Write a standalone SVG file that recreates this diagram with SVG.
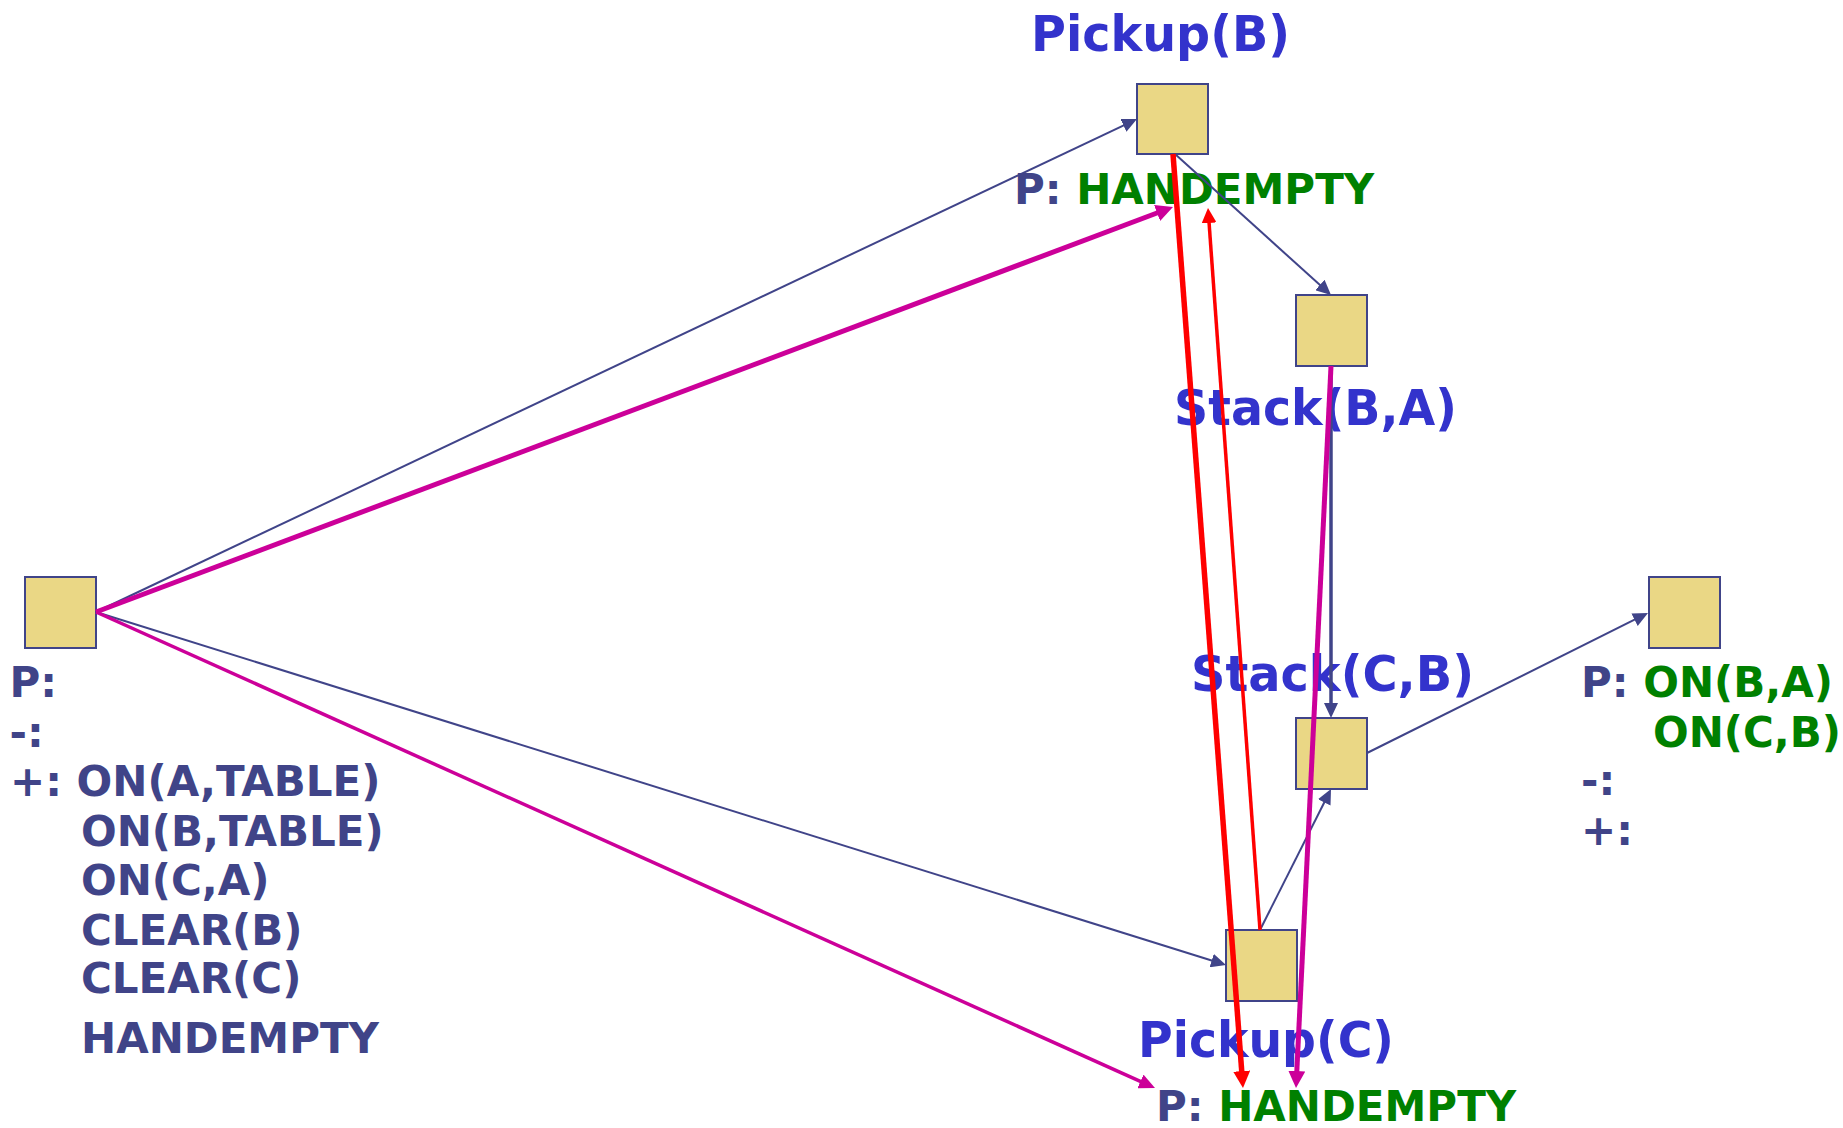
<svg xmlns="http://www.w3.org/2000/svg" width="1843" height="1128" viewBox="0 0 1843 1128">
<style>
.box{fill:#EAD785;stroke:#404489;stroke-width:2}
.t{font-family:"DejaVu Sans","Liberation Sans",sans-serif;font-weight:bold}
.lbl{font-size:42px;fill:#404488}
.g{fill:#008000}
.title{font-size:49px;fill:#3333CC}
.nv{fill:none;stroke:#404489;stroke-width:2}
.nv3{fill:none;stroke:#404489;stroke-width:3.5}
.mg{fill:none;stroke:#CC0099;stroke-width:5}
.mg3{fill:none;stroke:#CC0099;stroke-width:3.5}
.rd{fill:none;stroke:#FF0000;stroke-width:5.5}
.rd3{fill:none;stroke:#FF0000;stroke-width:3.5}
</style>
<defs>
<marker id="aNv" markerUnits="userSpaceOnUse" markerWidth="15" markerHeight="14" refX="5" refY="7" orient="auto"><path d="M0,0 L15,7 L0,14 z" fill="#404489"/></marker>
<marker id="aRd" markerUnits="userSpaceOnUse" markerWidth="17" markerHeight="17" refX="7" refY="8.5" orient="auto"><path d="M0,0 L17,8.5 L0,17 z" fill="#FF0000"/></marker>
<marker id="aRdS" markerUnits="userSpaceOnUse" markerWidth="15" markerHeight="15" refX="5" refY="7.5" orient="auto"><path d="M0,0 L15,7.5 L0,15 z" fill="#FF0000"/></marker>
<marker id="aMg" markerUnits="userSpaceOnUse" markerWidth="17" markerHeight="17" refX="7" refY="8.5" orient="auto"><path d="M0,0 L17,8.5 L0,17 z" fill="#CC0099"/></marker>
<marker id="aMgS" markerUnits="userSpaceOnUse" markerWidth="16" markerHeight="15" refX="6" refY="7.5" orient="auto"><path d="M0,0 L16,7.5 L0,15 z" fill="#CC0099"/></marker>
</defs>
<rect width="1843" height="1128" fill="#FFFFFF"/>

<g id="start">
<rect class="box" x="25" y="577" width="71" height="71"/>
<text class="t lbl" x="9.5" y="697">P:</text>
<text class="t lbl" x="9.5" y="747">-:</text>
<text class="t lbl" x="10" y="796">+: ON(A,TABLE)</text>
<text class="t lbl" x="81" y="846">ON(B,TABLE)</text>
<text class="t lbl" x="81" y="895">ON(C,A)</text>
<text class="t lbl" x="81" y="945">CLEAR(B)</text>
<text class="t lbl" x="81" y="993">CLEAR(C)</text>
<text class="t lbl" x="81" y="1053">HANDEMPTY</text>
</g>

<g id="pickupB">
<text class="t title" x="1031" y="51" textLength="259" lengthAdjust="spacingAndGlyphs">Pickup(B)</text>
<rect class="box" x="1137" y="84" width="71" height="70"/>
<text class="t lbl" x="1014" y="204">P: <tspan class="g">HANDEMPTY</tspan></text>
</g>

<g id="stackBA">
<rect class="box" x="1296" y="295" width="71" height="71"/>
<text class="t title" x="1174" y="425" textLength="283" lengthAdjust="spacingAndGlyphs">Stack(B,A)</text>
</g>

<g id="stackCB">
<text class="t title" x="1191" y="691" textLength="283" lengthAdjust="spacingAndGlyphs">Stack(C,B)</text>
<rect class="box" x="1296" y="718" width="71" height="71"/>
</g>

<g id="pickupC">
<rect class="box" x="1226" y="930" width="71" height="71"/>
<text class="t title" x="1138" y="1057" textLength="256" lengthAdjust="spacingAndGlyphs">Pickup(C)</text>
<text class="t lbl" x="1156" y="1121">P: <tspan class="g">HANDEMPTY</tspan></text>
</g>

<g id="goal">
<rect class="box" x="1649" y="577" width="71" height="71"/>
<text class="t lbl" x="1581" y="697">P: <tspan class="g">ON(B,A)</tspan></text>
<text class="t lbl g" x="1653" y="747">ON(C,B)</text>
<text class="t lbl" x="1581" y="795">-:</text>
<text class="t lbl" x="1581" y="845">+:</text>
</g>

<g id="connectors">
<path class="nv" d="M96,612 L1127.96,123.28" marker-end="url(#aNv)"/>
<path class="nv" d="M96,612 L1216.45,962.02" marker-end="url(#aNv)"/>
<path class="nv" d="M1175,154 L1323.58,288.30" marker-end="url(#aNv)"/>
<path class="nv3" d="M1331,366 L1331,708" marker-end="url(#aNv)"/>
<path class="nv" d="M1260,930 L1326.50,797.93" marker-end="url(#aNv)"/>
<path class="nv" d="M1367,753 L1639.05,617.46" marker-end="url(#aNv)"/>
<path class="mg" d="M96,612 L1163.64,210.52" marker-end="url(#aMg)"/>
<path class="mg3" d="M96,612 L1145.88,1083.90" marker-end="url(#aMgS)"/>
<path class="mg" d="M1331,366 L1296.48,1078.01" marker-end="url(#aMg)"/>
<path class="rd" d="M1173,154 L1242.25,1078.03" marker-end="url(#aRd)"/>
<path class="rd3" d="M1260,930 L1208.72,217.97" marker-end="url(#aRdS)"/>
</g>
</svg>
